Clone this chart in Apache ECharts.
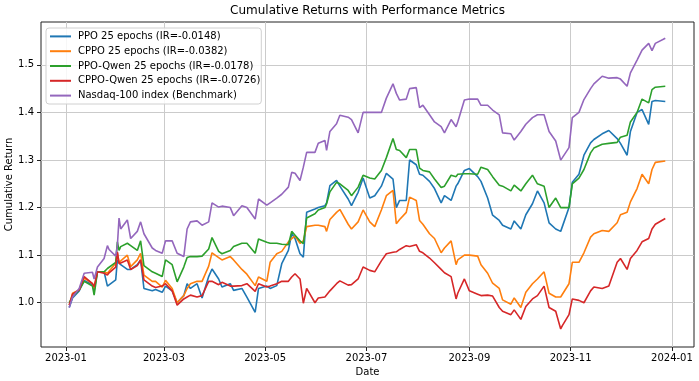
<!DOCTYPE html>
<html>
<head>
<meta charset="utf-8">
<script src="https://cdn.jsdelivr.net/npm/echarts@6/dist/echarts.min.js"></script>
<style>
html,body{margin:0;padding:0;background:#fff;}
#chart{width:699px;height:381px;}
</style>
</head>
<body>
<div id="chart"></div>
<script>
// Trading dates (sampled)
const dates = [
  '2023-01-03','2023-01-05','2023-01-09','2023-01-12','2023-01-17','2023-01-18','2023-01-20','2023-01-24','2023-01-26','2023-01-27','2023-01-31',
  '2023-02-01','2023-02-02','2023-02-03','2023-02-07','2023-02-09','2023-02-13','2023-02-15','2023-02-17','2023-02-22','2023-02-24','2023-02-28',
  '2023-03-02','2023-03-06','2023-03-09','2023-03-13','2023-03-15','2023-03-17','2023-03-21','2023-03-24','2023-03-28','2023-03-30',
  '2023-04-03','2023-04-05','2023-04-10','2023-04-12','2023-04-17','2023-04-20','2023-04-25','2023-04-27',
  '2023-05-02','2023-05-04','2023-05-08','2023-05-11','2023-05-15','2023-05-17','2023-05-19','2023-05-22','2023-05-24','2023-05-26','2023-05-31',
  '2023-06-02','2023-06-06','2023-06-07','2023-06-09','2023-06-13','2023-06-15','2023-06-20','2023-06-22','2023-06-26','2023-06-29',
  '2023-07-03','2023-07-06','2023-07-10','2023-07-13','2023-07-17','2023-07-19','2023-07-21','2023-07-25','2023-07-27','2023-07-31',
  '2023-08-02','2023-08-04','2023-08-08','2023-08-11','2023-08-15','2023-08-17','2023-08-21','2023-08-24','2023-08-25','2023-08-29',
  '2023-09-01','2023-09-06','2023-09-08','2023-09-12','2023-09-15','2023-09-19','2023-09-21','2023-09-26','2023-09-28',
  '2023-10-02','2023-10-05','2023-10-09','2023-10-12','2023-10-16','2023-10-19','2023-10-23','2023-10-26','2023-10-27','2023-10-31',
  '2023-11-02','2023-11-06','2023-11-09','2023-11-13','2023-11-15','2023-11-20','2023-11-24','2023-11-29',
  '2023-12-01','2023-12-05','2023-12-07','2023-12-11','2023-12-14','2023-12-18','2023-12-20','2023-12-22','2023-12-28'
];

const ppo = [
  0.99,1.01,1.025,1.047,1.038,1.025,1.065,1.065,1.035,1.038,1.048,
  1.09,1.085,1.08,1.07,1.07,1.08,1.09,1.03,1.025,1.028,1.022,
  1.035,1.025,1.0,1.015,1.04,1.03,1.04,1.01,1.055,1.071,
  1.05,1.033,1.04,1.026,1.03,1.012,0.98,1.03,
  1.035,1.03,1.036,1.082,1.11,1.145,1.135,1.103,1.096,1.19,1.197,
  1.2,1.204,1.21,1.246,1.257,1.245,1.218,1.204,1.232,1.262,
  1.22,1.225,1.245,1.272,1.26,1.2,1.215,1.215,1.3,1.29,
  1.27,1.268,1.255,1.24,1.21,1.225,1.215,1.245,1.25,1.278,
  1.282,1.265,1.255,1.22,1.184,1.173,1.163,1.155,1.172,
  1.155,1.185,1.208,1.235,1.21,1.168,1.155,1.15,1.16,1.2,
  1.253,1.27,1.31,1.336,1.343,1.355,1.362,1.345,
  1.335,1.31,1.36,1.4,1.406,1.375,1.423,1.425,1.423
];

const cppo = [
  0.995,1.02,1.027,1.052,1.04,1.03,1.065,1.065,1.062,1.065,1.083,
  1.105,1.085,1.085,1.1,1.076,1.09,1.104,1.058,1.045,1.045,1.033,
  1.047,1.03,1.0,1.015,1.03,1.04,1.045,1.045,1.077,1.105,
  1.095,1.09,1.097,1.09,1.07,1.06,1.036,1.054,
  1.045,1.085,1.103,1.108,1.128,1.135,1.14,1.125,1.13,1.16,1.163,
  1.163,1.16,1.15,1.175,1.19,1.196,1.165,1.155,1.17,1.195,
  1.17,1.16,1.195,1.225,1.236,1.166,1.175,1.19,1.222,1.215,
  1.173,1.165,1.145,1.135,1.105,1.115,1.13,1.08,1.09,1.1,
  1.1,1.098,1.08,1.062,1.041,1.03,1.006,0.997,1.01,
  0.99,1.022,1.04,1.05,1.065,1.02,1.012,1.012,1.015,1.04,
  1.085,1.085,1.105,1.138,1.145,1.152,1.15,1.168,
  1.185,1.19,1.212,1.24,1.27,1.25,1.28,1.295,1.298
];

const ppoQwen = [
  1.0,1.013,1.027,1.045,1.035,1.016,1.065,1.065,1.072,1.075,1.085,
  1.128,1.11,1.118,1.125,1.12,1.11,1.13,1.078,1.065,1.062,1.055,
  1.09,1.08,1.044,1.075,1.095,1.097,1.097,1.098,1.113,1.137,
  1.108,1.103,1.11,1.118,1.125,1.125,1.104,1.134,
  1.127,1.125,1.125,1.123,1.122,1.15,1.142,1.13,1.124,1.178,1.187,
  1.195,1.2,1.208,1.233,1.253,1.25,1.236,1.225,1.243,1.268,
  1.262,1.26,1.278,1.305,1.345,1.322,1.32,1.305,1.322,1.322,
  1.283,1.278,1.275,1.26,1.242,1.245,1.268,1.265,1.27,1.271,
  1.271,1.27,1.285,1.28,1.265,1.247,1.245,1.235,1.247,
  1.235,1.25,1.268,1.25,1.245,1.2,1.22,1.2,1.197,1.2,
  1.25,1.262,1.28,1.315,1.325,1.333,1.335,1.337,
  1.348,1.352,1.38,1.4,1.428,1.42,1.448,1.453,1.455
];

const cppoQwen = [
  0.995,1.018,1.027,1.055,1.04,1.034,1.065,1.062,1.058,1.063,1.075,
  1.107,1.082,1.08,1.09,1.07,1.078,1.09,1.048,1.035,1.032,1.035,
  1.04,1.025,0.995,1.008,1.012,1.016,1.012,1.015,1.045,1.045,
  1.038,1.043,1.035,1.035,1.036,1.04,1.024,1.04,
  1.033,1.035,1.04,1.045,1.045,1.054,1.061,1.05,0.999,1.03,1.0,
  1.01,1.012,1.015,1.025,1.04,1.046,1.037,1.038,1.05,1.075,
  1.068,1.065,1.088,1.103,1.106,1.107,1.112,1.12,1.118,1.122,
  1.108,1.105,1.094,1.084,1.07,1.063,1.055,1.008,1.02,1.05,
  1.025,1.018,1.015,1.016,1.014,0.99,0.982,0.975,0.985,
  0.965,0.992,1.008,1.015,1.035,0.99,0.982,0.945,0.952,0.975,
  1.008,1.005,1.0,1.025,1.033,1.03,1.035,1.085,
  1.093,1.07,1.093,1.11,1.128,1.135,1.155,1.165,1.177
];

const nasdaq = [
  0.99,1.012,1.03,1.062,1.064,1.05,1.075,1.093,1.12,1.112,1.098,
  1.12,1.178,1.155,1.174,1.135,1.15,1.17,1.145,1.115,1.11,1.104,
  1.13,1.13,1.104,1.097,1.155,1.17,1.172,1.163,1.17,1.21,
  1.201,1.203,1.2,1.183,1.204,1.2,1.176,1.218,
  1.205,1.21,1.22,1.228,1.243,1.274,1.272,1.257,1.285,1.316,1.316,
  1.335,1.341,1.32,1.36,1.376,1.394,1.39,1.385,1.357,1.4,
  1.4,1.4,1.4,1.43,1.46,1.44,1.426,1.428,1.45,1.452,
  1.41,1.415,1.395,1.38,1.37,1.357,1.385,1.37,1.38,1.426,
  1.428,1.428,1.415,1.415,1.405,1.395,1.357,1.355,1.342,
  1.36,1.375,1.389,1.395,1.395,1.36,1.34,1.3,1.305,1.326,
  1.389,1.4,1.427,1.45,1.46,1.476,1.472,1.473,
  1.47,1.455,1.483,1.51,1.531,1.545,1.53,1.545,1.556
];

const seriesNames = [
  'PPO 25 epochs (IR=-0.0148)',
  'CPPO 25 epochs (IR=-0.0382)',
  'PPO-Qwen 25 epochs (IR=-0.0178)',
  'CPPO-Qwen 25 epochs (IR=-0.0726)',
  'Nasdaq-100 index (Benchmark)'
];
const xTickLabels = ['2023-01','2023-03','2023-05','2023-07','2023-09','2023-11','2024-01'];
const yTickLabels = [1.0, 1.1, 1.2, 1.3, 1.4, 1.5];

const colors = ['#1f77b4','#ff7f0e','#2ca02c','#d62728','#9467bd'];
const allValues = [ppo, cppo, ppoQwen, cppoQwen, nasdaq];

function parseDay(s) {
  const p = s.split('-').map(Number);
  return Date.UTC(p[0], p[1] - 1, p[2] || 1);
}
const xTickValues = xTickLabels.map(parseDay);
const FONT = 'DejaVu Sans';

const chart = echarts.init(document.getElementById('chart'), null, {renderer: 'canvas'});
chart.setOption({
  animation: false,
  backgroundColor: '#ffffff',
  title: {
    text: 'Cumulative Returns with Performance Metrics',
    left: 367.5, top: 5, textAlign: 'center', padding: 0,
    textStyle: {fontFamily: FONT, fontSize: 12, fontWeight: 'normal', color: '#000'}
  },
  legend: {
    orient: 'vertical', left: 46, top: 28,
    padding: [2.4, 1, 2.4, 4],
    itemWidth: 21, itemHeight: 2, itemGap: 2.8,
    icon: 'rect',
    backgroundColor: 'rgba(255,255,255,0.85)',
    borderColor: '#d0d0d0', borderWidth: 1, borderRadius: 3,
    textStyle: {fontFamily: FONT, fontSize: 10, color: '#000', lineHeight: 12, padding: [0, 0, 0, 2]},
    data: seriesNames
  },
  grid: {
    left: 41, right: 5, top: 22, bottom: 34,
    containLabel: false, outerBoundsMode: 'none',
    show: true, borderColor: '#222', borderWidth: 1, backgroundColor: 'transparent'
  },
  xAxis: {
    type: 'value',
    min: parseDay('2022-12-17'),
    max: parseDay('2024-01-14') + 7 * 3600 * 1000,
    name: 'Date', nameLocation: 'middle', nameGap: 20, nameMoveOverlap: false,
    nameTextStyle: {fontFamily: FONT, fontSize: 10, color: '#000'},
    axisLine: {show: false},
    axisTick: {show: true, customValues: xTickValues, length: 4, inside: false, lineStyle: {color: '#222'}},
    axisLabel: {
      customValues: xTickValues, margin: 6,
      fontFamily: FONT, fontSize: 10, color: '#000',
      formatter: function (v) {
        const d = new Date(v);
        return d.getUTCFullYear() + '-' + String(d.getUTCMonth() + 1).padStart(2, '0');
      }
    },
    splitLine: {show: true, lineStyle: {color: '#cbcbcb', width: 1}}
  },
  yAxis: {
    type: 'value',
    min: 0.907, max: 1.59,
    name: 'Cumulative Return', nameLocation: 'middle', nameGap: 27, nameMoveOverlap: false,
    nameTextStyle: {fontFamily: FONT, fontSize: 10, color: '#000'},
    axisLine: {show: false},
    axisTick: {show: true, customValues: yTickLabels, length: 4, inside: false, lineStyle: {color: '#222'}},
    axisLabel: {
      customValues: yTickLabels, margin: 7,
      fontFamily: FONT, fontSize: 10, color: '#000',
      formatter: function (v) { return v.toFixed(1); }
    },
    splitLine: {show: true, lineStyle: {color: '#cbcbcb', width: 1}}
  },
  series: allValues.map(function (vals, k) {
    return {
      name: seriesNames[k],
      type: 'line',
      data: dates.map(function (d, i) { return [parseDay(d), vals[i]]; }),
      showSymbol: false, symbol: 'none',
      color: colors[k],
      lineStyle: {color: colors[k], width: 1.6},
      emphasis: {disabled: true},
      z: 2 + k
    };
  })
});
</script>
</body>
</html>
